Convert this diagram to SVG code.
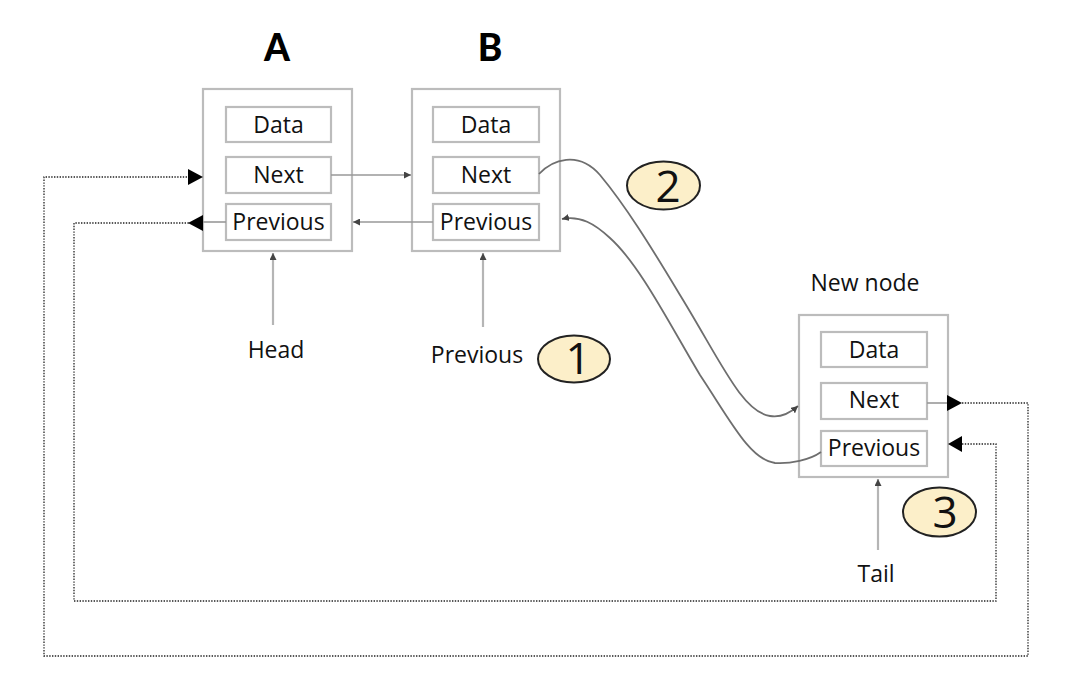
<svg xmlns="http://www.w3.org/2000/svg" width="1080" height="683" viewBox="0 0 1080 683">
<style>
.outer{fill:#fff;stroke:#bcbcbc;stroke-width:2.2}
.inner{fill:#fff;stroke:#bcbcbc;stroke-width:2.2}
.t{font-family:"Open Sans","Liberation Sans",sans-serif;font-size:23px;fill:#111;text-anchor:middle}
.big{font-family:"Lato","DejaVu Sans",sans-serif;font-size:37px;font-weight:900;fill:#000;text-anchor:middle}
.badge{fill:#fcefc9;stroke:#222;stroke-width:2}
.num{font-family:"Open Sans","Liberation Sans",sans-serif;font-size:44px;fill:#111;text-anchor:middle}
.gl{fill:none;stroke:#999;stroke-width:1.6}
.cv{fill:none;stroke:#6e6e6e;stroke-width:1.8}
.up{fill:none;stroke:#b5b5b5;stroke-width:2.2}
.dot{fill:none;stroke:#222;stroke-width:1.3;stroke-dasharray:1.4 1.4}
.ah{fill:#000}
</style>
<defs>
<marker id="sm" viewBox="0 0 10 10" refX="10" refY="5" markerWidth="7" markerHeight="7" markerUnits="userSpaceOnUse" orient="auto">
<path d="M0,0 L10,5 L0,10 z" fill="#444"/>
</marker>
</defs>

<text class="big" x="277" y="61">A</text>
<text class="big" x="490" y="61">B</text>

<g id="nodeA">
<rect class="outer" x="203" y="89" width="149" height="162"/>
<rect class="inner" x="226" y="107" width="105" height="35"/>
<text class="t" x="278.5" y="133">Data</text>
<rect class="inner" x="226" y="157" width="105" height="36"/>
<text class="t" x="278.5" y="183">Next</text>
<rect class="inner" x="226" y="204" width="105" height="36"/>
<text class="t" x="278.5" y="230">Previous</text>
</g>

<g id="nodeB">
<rect class="outer" x="412" y="89" width="148" height="162"/>
<rect class="inner" x="433" y="107" width="106" height="35"/>
<text class="t" x="486" y="133">Data</text>
<rect class="inner" x="433" y="157" width="106" height="36"/>
<text class="t" x="486" y="183">Next</text>
<rect class="inner" x="433" y="204" width="106" height="36"/>
<text class="t" x="486" y="230">Previous</text>
</g>

<g id="newNode">
<text class="t" x="865" y="291">New node</text>
<rect class="outer" x="799" y="315" width="149" height="162"/>
<rect class="inner" x="821" y="332" width="106" height="35"/>
<text class="t" x="874" y="358">Data</text>
<rect class="inner" x="821" y="383" width="106" height="36"/>
<text class="t" x="874" y="408">Next</text>
<rect class="inner" x="821" y="431" width="106" height="35"/>
<text class="t" x="874" y="456">Previous</text>
</g>

<g id="labels">
<text class="t" x="276" y="358">Head</text>
<text class="t" x="477" y="363">Previous</text>
<text class="t" x="876" y="582">Tail</text>
</g>

<g id="badges">
<g id="badge1"><ellipse class="badge" cx="574" cy="359" rx="36" ry="23.5"/><text class="num" x="578" y="374">1</text></g>
<g id="badge2"><ellipse class="badge" cx="663.5" cy="185.5" rx="36.5" ry="24"/><text class="num" x="668" y="202">2</text></g>
<g id="badge3"><ellipse class="badge" cx="939.5" cy="512" rx="36.5" ry="24.5"/><text class="num" x="945" y="528">3</text></g>
</g>

<g id="connectors">
<line class="gl" x1="331" y1="175" x2="411" y2="175" marker-end="url(#sm)"/>
<line class="gl" x1="433" y1="222" x2="353" y2="222" marker-end="url(#sm)"/>
<line class="up" x1="273" y1="325" x2="273" y2="253" marker-end="url(#sm)"/>
<line class="up" x1="483" y1="327" x2="483" y2="253" marker-end="url(#sm)"/>
<line class="up" x1="878" y1="550" x2="878" y2="479" marker-end="url(#sm)"/>
<path class="cv" d="M539,174 C552,160 578,150 600,175 C625,205 650,245 680,295 C720,360 742,412 770,416 C781,418 790,413 798,406" marker-end="url(#sm)"/>
<path class="cv" d="M821,452 C810,460 790,464 775,463 C750,460 730,420 700,375 C670,325 640,265 610,238 C595,224 580,215 562,219" marker-end="url(#sm)"/>
<line class="gl" x1="226" y1="222" x2="203" y2="222"/>
<line class="gl" x1="927" y1="403" x2="947" y2="403"/>
<polyline class="dot" points="962,403 1028,403 1028,656 44,656 44,177 188,177"/>
<polygon class="ah" points="188,169 203,177 188,185"/>
<polygon class="ah" points="947,395 962,403 947,411"/>
<polyline class="dot" points="962,444 996,444 996,601 74,601 74,223 203,223"/>
<polygon class="ah" points="203,215 188,223 203,231"/>
<polygon class="ah" points="962,436 948,444 962,452"/>
</g>
</svg>
